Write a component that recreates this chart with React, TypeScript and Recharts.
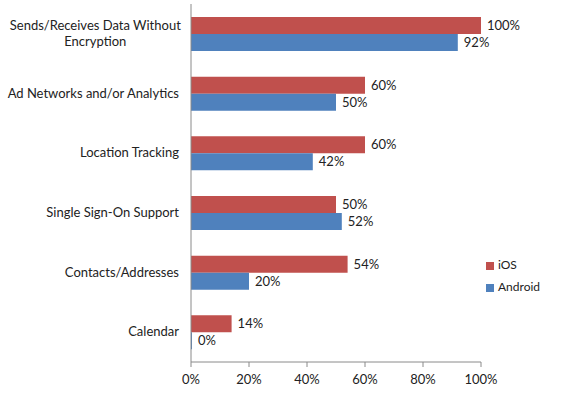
import React from 'react';
import { BarChart, Bar, XAxis, YAxis, Legend, LabelList } from 'recharts';

const categories = [
  'Sends/Receives Data Without Encryption',
  'Ad Networks and/or Analytics',
  'Location Tracking',
  'Single Sign-On Support',
  'Contacts/Addresses',
  'Calendar',
];
const iosValues = [100, 60, 60, 50, 54, 14];
const androidValues = [92, 50, 42, 52, 20, 0];
const xTicks = [0, 20, 40, 60, 80, 100];
const boundaryTicks = [0, 1, 2, 3, 4, 5, 6];
const legendOrder = ['iOS', 'Android'];

const data = categories.map((name, i) => ({
  name,
  ios: iosValues[i],
  android: androidValues[i],
}));

const FONT = 'Lato, "Open Sans", sans-serif';
const RED = '#C0504D';
const BLUE = '#4F81BD';
const AXIS = '#8a8a8a';

// rough text wrapping, ~6.3px per char
const wrap = (s: string, maxChars: number) => {
  const words = s.split(' ');
  const lines: string[] = [];
  let cur = '';
  words.forEach(w => {
    const next = cur ? cur + ' ' + w : w;
    if (next.length > maxChars && cur) {
      lines.push(cur);
      cur = w;
    } else cur = next;
  });
  if (cur) lines.push(cur);
  return lines;
};

const CategoryTick = (props: any) => {
  const { x, y, payload } = props;
  const lines = wrap(payload.value, 28);
  const right = x - 4;
  if (lines.length === 1) {
    return (
      <text x={right} y={y} dy={4} textAnchor="end" fontSize={13} fill="#222" fontFamily={FONT}>
        {lines[0]}
      </text>
    );
  }
  const blockW = Math.max(...lines.map(l => l.length)) * 6.2;
  const cx = right - blockW / 2;
  const startDy = 4 - ((lines.length - 1) * 16) / 2;
  return (
    <text x={cx} y={y} textAnchor="middle" fontSize={13} fill="#222" fontFamily={FONT}>
      {lines.map((l, i) => (
        <tspan key={i} x={cx} dy={i === 0 ? startDy : 16}>
          {l}
        </tspan>
      ))}
    </text>
  );
};

export default function App() {
  return (
    <div style={{ position: 'absolute', left: 0, top: 0, width: 580, height: 397, background: '#fff' }}>
      <BarChart
        width={580}
        height={397}
        data={data}
        layout="vertical"
        margin={{ top: 4, right: 99, bottom: 0, left: 0 }}
        barGap={0}
        barSize={17}
      >
        <YAxis
          yAxisId="bounds"
          type="number"
          domain={[0, 6]}
          ticks={boundaryTicks}
          width={0}
          tick={false}
          axisLine={false}
          tickLine={{ stroke: AXIS }}
          tickSize={5}
          allowDataOverflow
        />
        <YAxis
          type="category"
          dataKey="name"
          width={191}
          axisLine={{ stroke: AXIS }}
          tickLine={false}
          tick={<CategoryTick />}
          interval={0}
        />
        <XAxis
          type="number"
          domain={[0, 100]}
          ticks={xTicks}
          tickFormatter={(v: number) => `${v}%`}
          height={35}
          axisLine={{ stroke: AXIS }}
          tickLine={{ stroke: AXIS }}
          tickSize={5}
          tick={{ fontSize: 13, fill: '#222', fontFamily: FONT, dy: 6 }}
        />
        <Legend
          layout="vertical"
          align="center"
          verticalAlign="middle"
          iconType="square"
          iconSize={8}
          itemSorter={(item: any) => legendOrder.indexOf(item.value)}
          wrapperStyle={{ left: 486, top: 254, width: 90, fontFamily: FONT, fontSize: 12, lineHeight: '22px' }}
          formatter={(value: string) => <span style={{ color: '#222' }}>{value}</span>}
        />
        <Bar dataKey="ios" name="iOS" fill={RED} isAnimationActive={false}>
          <LabelList
            dataKey="ios"
            position="right"
            offset={6}
            formatter={(v: number) => `${v}%`}
            style={{ fontSize: 13, fill: '#222', fontFamily: FONT }}
          />
        </Bar>
        <Bar dataKey="android" name="Android" fill={BLUE} minPointSize={1} isAnimationActive={false}>
          <LabelList
            dataKey="android"
            position="right"
            offset={6}
            formatter={(v: number) => `${v}%`}
            style={{ fontSize: 13, fill: '#222', fontFamily: FONT }}
          />
        </Bar>
      </BarChart>
    </div>
  );
}
